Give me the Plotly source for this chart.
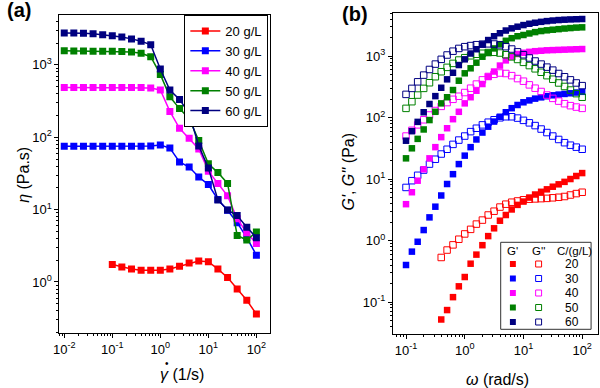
import plotly.graph_objects as go

# ---------------- Panel (a): viscosity vs shear rate ----------------
shear_20 = [0.1, 0.158, 0.251, 0.398, 0.631, 1.0, 1.58, 2.51, 3.98, 6.31,
            10, 15.8, 25.1, 39.8, 63.1, 100]
shear = [0.01, 0.0158, 0.0251, 0.0398, 0.0631, 0.1, 0.158, 0.251, 0.398, 0.631,
         1.0, 1.58, 2.51, 3.98, 6.31, 10, 15.8, 25.1, 39.8, 63.1, 100]
eta_20 = [1.75, 1.61, 1.51, 1.45, 1.45, 1.45, 1.51, 1.65, 1.83, 1.95,
          1.91, 1.51, 1.15, 0.80, 0.56, 0.36]
eta_30 = [75, 75, 75, 75, 75, 75, 75, 75, 75, 76,
          78, 71, 45.5, 38.8, 28.2, 22.2, 13.8, 9.8, 6.6, 4.1, 2.35]
eta_40 = [488, 488, 488, 488, 488, 488, 488, 488, 488, 480,
          450, 228, 133, 97, 69, 34, 23, 15.5, 7.5, 4.8, 3.4]
eta_50 = [1570, 1560, 1555, 1550, 1545, 1540, 1530, 1510, 1450, 1300,
          740, 362, 249, 181, 90, 43, 32.5, 23, 4.4, 3.8, 4.9]
eta_60 = [2770, 2770, 2730, 2690, 2620, 2540, 2440, 2290, 2130, 1900,
          880, 450, 334, 213, 76, 37.5, 13.6, 9.9, 8.3, 5.7, 4.1]

names_a = ["20 g/L", "30 g/L", "40 g/L", "50 g/L", "60 g/L"]
colors = ["#FF0000", "#0000FF", "#FF00FF", "#008000", "#000080"]

# ---------------- Panel (b): moduli vs angular frequency ----------------
omega = [0.1, 0.126, 0.158, 0.2, 0.251, 0.316, 0.398, 0.501, 0.631, 0.794,
         1.0, 1.26, 1.58, 2.0, 2.51, 3.16, 3.98, 5.01, 6.31, 7.94,
         10, 12.6, 15.8, 20, 25.1, 31.6, 39.8, 50.1, 63.1, 79.4, 100]
omega_20 = omega[6:]

Gp_20 = [0.052, 0.074, 0.12, 0.18, 0.255, 0.42, 0.59, 0.84, 1.18, 1.58,
         2.1, 2.6, 3.2, 3.8, 4.3, 5.0, 5.6, 6.2, 6.8, 7.5,
         8.2, 9.0, 10.0, 11.2, 12.5]
Gpp_20 = [0.53, 0.70, 0.85, 1.05, 1.28, 1.52, 1.85, 2.15, 2.6, 3.0,
          3.5, 3.9, 4.2, 4.4, 4.6, 4.7, 4.75, 4.8, 4.85, 4.95,
          5.05, 5.2, 5.5, 5.8, 6.1]
Gp_30 = [0.40, 0.66, 0.955, 1.48, 2.38, 3.55, 5.4, 8.3, 12.0, 17.5,
         24, 33, 44, 57, 71, 86, 103, 122, 142, 160,
         177, 190, 203, 213, 222, 230, 236, 242, 248, 255, 262]
Gpp_30 = [7.3, 9.4, 11.5, 14, 17.5, 21, 25.5, 30.5, 36.6, 43,
          50, 59, 67, 76, 84, 92, 99, 103, 103, 98,
          90, 82, 74, 65, 57, 50, 44, 39, 35.5, 33, 30.5]
Gp_40 = [3.9, 6.1, 9.4, 14.4, 21.7, 33, 48, 67, 94, 124,
         170, 214, 273, 351, 461, 560, 700, 850, 980, 1080,
         1130, 1170, 1200, 1220, 1240, 1250, 1260, 1270, 1280, 1290, 1300]
Gpp_40 = [50, 62, 76, 92, 110, 130, 152, 175, 198, 222,
          255, 300, 350, 410, 465, 505, 530, 520, 480, 430,
          390, 340, 300, 265, 232, 205, 185, 168, 156, 148, 141]
Gp_50 = [21.7, 31.6, 45, 64, 91, 124, 170, 214, 280, 397,
         524, 632, 780, 975, 1130, 1330, 1560, 1770, 1950, 2100,
         2200, 2330, 2450, 2550, 2620, 2680, 2740, 2800, 2850, 2900, 2930]
Gpp_50 = [141, 181, 232, 298, 368, 461, 556, 655, 760, 861,
          940, 1010, 1070, 1110, 1140, 1150, 1120, 1050, 970, 880,
          790, 700, 620, 545, 480, 420, 365, 320, 280, 245, 214]
Gp_60 = [42, 60, 85, 122, 166, 223, 305, 418, 535, 714,
         884, 1100, 1290, 1550, 1820, 2100, 2350, 2600, 2820, 3000,
         3190, 3350, 3480, 3600, 3700, 3780, 3850, 3900, 3940, 3970, 4000]
Gpp_60 = [238, 298, 381, 490, 605, 740, 884, 1040, 1200, 1330,
          1420, 1480, 1530, 1560, 1580, 1570, 1520, 1420, 1300, 1170,
          1050, 930, 830, 740, 660, 590, 520, 460, 410, 365, 330]

conc_labels = ["20", "30", "40", "50", "60"]

# tick labels
xa_tickvals = [0.01, 0.1, 1, 10, 100]
xa_ticktext = ["10<sup>-2</sup>", "10<sup>-1</sup>", "10<sup>0</sup>", "10<sup>1</sup>", "10<sup>2</sup>"]
ya_tickvals = [1, 10, 100, 1000]
ya_ticktext = ["10<sup>0</sup>", "10<sup>1</sup>", "10<sup>2</sup>", "10<sup>3</sup>"]
xb_tickvals = [0.1, 1, 10, 100]
xb_ticktext = ["10<sup>-1</sup>", "10<sup>0</sup>", "10<sup>1</sup>", "10<sup>2</sup>"]
yb_tickvals = [0.1, 1, 10, 100, 1000]
yb_ticktext = ["10<sup>-1</sup>", "10<sup>0</sup>", "10<sup>1</sup>", "10<sup>2</sup>", "10<sup>3</sup>"]


def minor_vals(lo, hi):
    return [m * 10.0 ** e for e in range(lo, hi) for m in range(2, 10)]


W, H = 600, 388


def px(x):
    return x / W


def py(y):
    return 1 - y / H


FONT = "Liberation Sans, Arial, sans-serif"
fig = go.Figure()

# Panel (a)
xs_a = [shear_20, shear, shear, shear, shear]
ys_a = [eta_20, eta_30, eta_40, eta_50, eta_60]
for nm, c, xv, yv in zip(names_a, colors, xs_a, ys_a):
    fig.add_trace(go.Scatter(
        x=xv, y=yv, name=nm, mode="lines+markers",
        line=dict(color=c, width=1.5),
        marker=dict(symbol="square", size=7, color=c),
        xaxis="x", yaxis="y"))

# Panel (b)
Gp_all = [Gp_20, Gp_30, Gp_40, Gp_50, Gp_60]
Gpp_all = [Gpp_20, Gpp_30, Gpp_40, Gpp_50, Gpp_60]
om_all = [omega_20, omega, omega, omega, omega]
for c, om, gp, gpp in zip(colors, om_all, Gp_all, Gpp_all):
    fig.add_trace(go.Scatter(
        x=om, y=gpp, mode="markers", showlegend=False,
        marker=dict(symbol="square-open", size=6.5, color=c, line=dict(width=1)),
        xaxis="x2", yaxis="y2"))
    fig.add_trace(go.Scatter(
        x=om, y=gp, mode="markers", showlegend=False,
        marker=dict(symbol="square", size=6.5, color=c, line=dict(width=0)),
        xaxis="x2", yaxis="y2"))

axis_common = dict(type="log", showline=True, linecolor="black", linewidth=1.2,
                   mirror=True, ticks="outside", ticklen=4, tickwidth=1,
                   tickcolor="black", showgrid=False, zeroline=False,
                   tickfont=dict(family=FONT, size=13, color="black"),
                   tickmode="array")

fig.update_layout(
    width=W, height=H,
    margin=dict(l=0, r=0, t=0, b=0),
    paper_bgcolor="white", plot_bgcolor="white",
    font=dict(family=FONT, color="black"),
    xaxis=dict(axis_common, domain=[px(54), px(267)], range=[-2.1, 2.29],
               tickvals=xa_tickvals, ticktext=xa_ticktext, anchor="y",
               minor=dict(tickmode="array", tickvals=minor_vals(-3, 3),
                          ticks="outside", ticklen=2, tickcolor="black", showgrid=False)),
    yaxis=dict(axis_common, domain=[py(333), py(15)], range=[-0.705, 3.69],
               tickvals=ya_tickvals, ticktext=ya_ticktext, anchor="x",
               minor=dict(tickmode="array", tickvals=minor_vals(-1, 4),
                          ticks="outside", ticklen=2, tickcolor="black", showgrid=False)),
    xaxis2=dict(axis_common, domain=[px(391), px(598)], range=[-1.22, 2.27],
                tickvals=xb_tickvals, ticktext=xb_ticktext, anchor="y2",
                minor=dict(tickmode="array", tickvals=minor_vals(-2, 3),
                           ticks="outside", ticklen=2, tickcolor="black", showgrid=False)),
    yaxis2=dict(axis_common, domain=[py(334), py(13)], range=[-1.52, 3.7],
                tickvals=yb_tickvals, ticktext=yb_ticktext, anchor="x2",
                minor=dict(tickmode="array", tickvals=minor_vals(-2, 4),
                           ticks="outside", ticklen=2, tickcolor="black", showgrid=False)),
    legend=dict(x=px(265), y=py(15), xanchor="right", yanchor="top",
                bgcolor="white", bordercolor="black", borderwidth=1,
                font=dict(family=FONT, size=13, color="black"),
                tracegroupgap=0, itemwidth=30),
    showlegend=True,
)

ann = []


def add_text(text, x, y, size, angle=0):
    ann.append(dict(text=text, x=px(x), y=py(y), xref="paper", yref="paper",
                    xanchor="center", yanchor="middle", showarrow=False, textangle=angle,
                    font=dict(family=FONT, size=size, color="black")))


# panel labels
add_text("<b>(a)</b>", 13, 10, 20)
add_text("<b>(b)</b>", 353, 14, 20)
# axis titles
add_text("<i>η</i> (Pa.s)", 18, 175, 16, -90)
add_text("<i>γ</i> (1/s)", 178, 374, 16)
add_text("•", 163, 363, 10)  # the over-dot of gamma-dot
add_text("<i>G'</i>, <i>G''</i> (Pa)", 345, 172, 16, -90)
add_text("<i>ω</i> (rad/s)", 496, 379, 16)

# custom legend for panel (b)
shapes = [dict(type="rect", xref="paper", yref="paper",
               x0=px(499.7), x1=px(591), y0=py(329.3), y1=py(242.3),
               line=dict(color="#333333", width=1), fillcolor="white", layer="above")]
for txt, xp in [("G'", 512), ("G''", 538), ("C/(g/L)", 574)]:
    add_text(txt, xp, 251, 11.5)
row_y = [264, 278.5, 293, 307.5, 322]
for c, lab, ry in zip(colors, conc_labels, row_y):
    yc = py(ry)
    hx = 3 / W
    hy = 3 / H
    shapes.append(dict(type="rect", xref="paper", yref="paper", x0=px(512) - hx, x1=px(512) + hx,
                       y0=yc - hy, y1=yc + hy, fillcolor=c, line=dict(width=0), layer="above"))
    shapes.append(dict(type="rect", xref="paper", yref="paper", x0=px(538) - hx, x1=px(538) + hx,
                       y0=yc - hy, y1=yc + hy, fillcolor="white", line=dict(color=c, width=1),
                       layer="above"))
    add_text(lab, 572, ry, 12)

fig.update_layout(annotations=ann, shapes=shapes)
# remove the browser's default 8px body margin so the figure fills the window exactly
fig.write_html("out.html", config={"displayModeBar": False},
               post_script="document.body.style.margin='0';document.body.style.overflow='hidden';")
